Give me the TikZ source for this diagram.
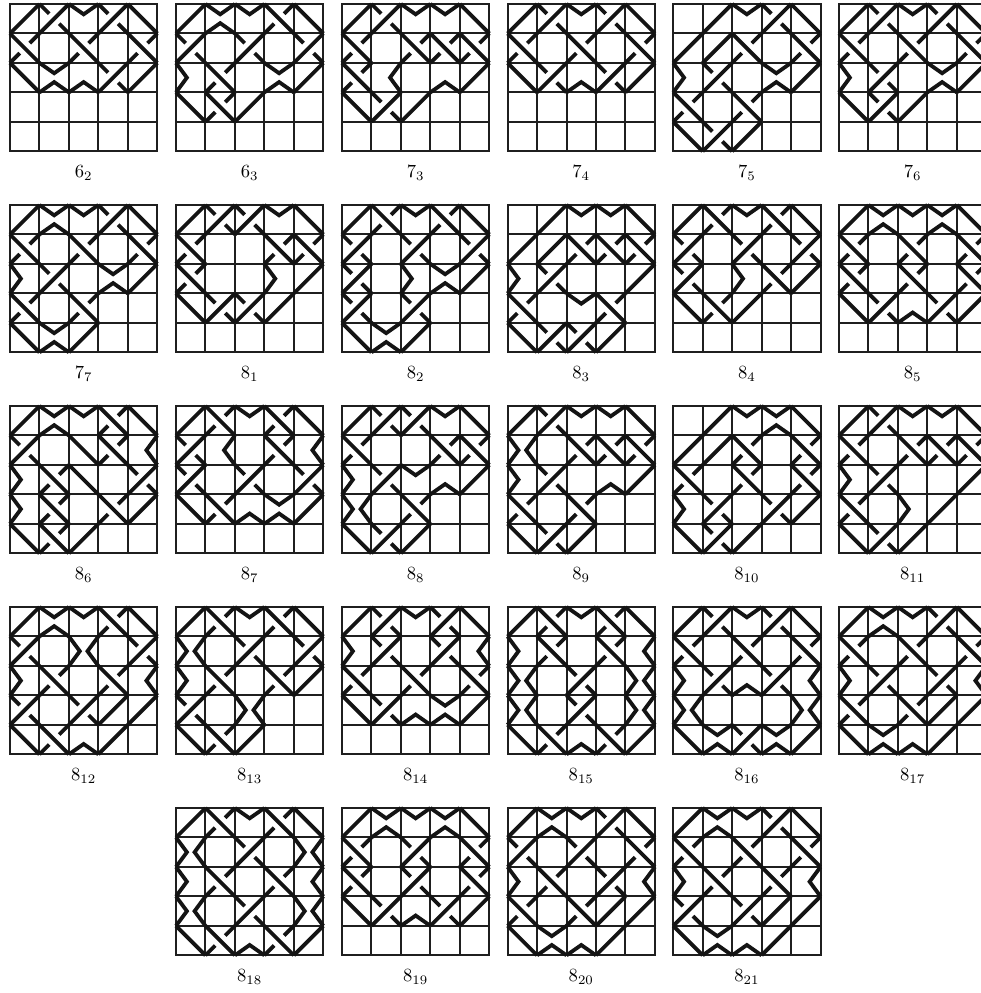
\documentclass[tikz,border=0pt]{standalone}
\makeatletter
\newcommand\tfortiles[2]{\@tfor\mt@t:=#1\do{#2}}
\newcommand\curtile{\mt@t}
\makeatother
\tikzset{
  gridline/.style={line width=2bp,black!88,line cap=rect},
  strand/.style={line width=3.8bp,black!92,line cap=butt,line join=miter},
  knotlabel/.style={anchor=base,scale=1.86,inner sep=0pt,outer sep=0pt}
}
\newcommand\mtr{\draw[strand] (0,1)--(1,0);}
\newcommand\mtf{\draw[strand] (0,0)--(1,1);}
\newcommand\mtv{\draw[strand] (0,0)--(.5,.35)--(1,0);}
\newcommand\mtp{\draw[strand] (0,1)--(.5,.65)--(1,1);}
\newcommand\mtl{\draw[strand] (0,0)--(.37,.5)--(0,1);}
\newcommand\mtg{\draw[strand] (1,0)--(.63,.5)--(1,1);}
\newcommand\mth{\mtv\mtp}
\newcommand\mti{\mtl\mtg}
\newcommand\mto{}
\newcommand\mta{\mtr\draw[strand] (0,0)--(.33,.33) (1,1)--(.67,.67);}
\newcommand\mtb{\mtf\draw[strand] (1,0)--(.67,.33) (0,1)--(.33,.67);}
\newcount\mtn
\newcommand\mosaic[5]{%
  \begin{scope}[shift={(#1pt,-#2pt)},x=29.46pt,y=-29.46pt]
    \foreach \i in {0,...,5}{\draw[gridline] (\i,0)--(\i,5) (0,\i)--(5,\i);}
    \global\mtn=0
    \tfortiles{#5}{%
      \begin{scope}[shift={({int(mod(\the\mtn,5))},{int(\the\mtn/5)})}]
        \csname mt\curtile\endcsname
      \end{scope}%
      \global\advance\mtn by 1
    }
    \node[knotlabel] (k#3-#4) at (2.5,5.88) {$#3_{#4}$};
  \end{scope}%
}
\begin{document}
\begin{tikzpicture}[x=1pt,y=1pt]
\useasboundingbox (0,0) rectangle (981,-993);
\clip (0,0) rectangle (981,-993);
\def\xa{10}\def\xb{176}\def\xc{342}\def\xd{507.6}\def\xe{673.2}\def\xf{839}
\def\ya{4}\def\yb{205}\def\yc{406}\def\yd{607}\def\ye{808}
\mosaic{\xa}{\ya}{6}{2}{r a v a f  b o b o b  f h p a r  o o o o o  o o o o o}
\mosaic{\xb}{\ya}{6}{3}{r h v b f  a o a o a  l b o h r  f b r o o  o o o o o}
\mosaic{\xc}{\ya}{7}{3}{r a v v f  b o b b b  b g o p r  f a r o o  o o o o o}
\mosaic{\xd}{\ya}{7}{4}{r a v a f  b o b o b  f a p a r  o o o o o  o o o o o}
\mosaic{\xe}{\ya}{7}{5}{o r v a f  r r b o b  l a o h r  b o b o o  f a r o o}
\mosaic{\xf}{\ya}{7}{6}{r a v a f  b o b o b  l a o h r  f a r o o  o o o o o}
\mosaic{\xa}{\yb}{7}{7}{r h v a f  b o b o b  l a o h r  b o b o o  f h r o o}
\mosaic{\xb}{\yb}{8}{1}{r a a v f  b o o b b  b o o l r  f a a r o  o o o o o}
\mosaic{\xc}{\yb}{8}{2}{r b v b f  a o a o a  a o l h r  a o a o o  f h r o o}
\mosaic{\xd}{\yb}{8}{3}{o r v v f  r r b b b  l a o o r  b o v b o  f a a r o}
\mosaic{\xe}{\yb}{8}{4}{r b v b f  a o a o a  a o l b r  f b r o o  o o o o o}
\mosaic{\xf}{\yb}{8}{5}{r h v h f  b o b o b  b o b o b  f a p a r  o o o o o}
\mosaic{\xa}{\yc}{8}{6}{r h v b f  a o f b g  l b f o a  l b o b r  f b r o o}
\mosaic{\xb}{\yc}{8}{7}{r b v b f  a g o b g  a o a o a  f b p h r  o o o o o}
\mosaic{\xc}{\yc}{8}{8}{r a a v f  b o o b b  l a v p r  i o b o o  f a r o o}
\mosaic{\xd}{\yc}{8}{9}{r a v v f  i o b b b  l a o p r  b o b o o  f a r o o}
\mosaic{\xe}{\yc}{8}{10}{o r v h f  r r b o b  b o b o b  l a o a r  f a r o o}
\mosaic{\xf}{\yc}{8}{11}{r a v v f  b o b b b  l a o o r  b o l r o  f a r o o}
\mosaic{\xa}{\yd}{8}{12}{r h v b f  a o i o a  l b o b g  a o a r r  f b p r o}
\mosaic{\xb}{\yd}{8}{13}{r b v b f  i o a o a  l b o b r  a o i o o  f b r o o}
\mosaic{\xc}{\yd}{8}{14}{r a v a f  l a o a g  b o b o b  f a p h r  o o o o o}
\mosaic{\xd}{\yd}{8}{15}{r b v b f  l b o b g  i o a o i  i o a o i  f b p b r}
\mosaic{\xe}{\yd}{8}{16}{r a v a f  b o b o b  l a p a g  i o o o i  f h a h r}
\mosaic{\xf}{\yd}{8}{17}{r h v a f  b o b o b  l a o a g  b o b r r  f h p r o}
\mosaic{\xb}{\ye}{8}{18}{r b v b f  i o a o i  l b o b g  i o a o i  f b p b r}
\mosaic{\xc}{\ye}{8}{19}{r h v h f  b o a o b  b o a o b  f a p a r  o o o o o}
\mosaic{\xd}{\ye}{8}{20}{r h v a f  a o a o b  l b o a g  b o b r r  f h p r o}
\mosaic{\xe}{\ye}{8}{21}{r h v a f  b o b o b  l b o b g  a o a r r  f h p r o}
\end{tikzpicture}
\end{document}
